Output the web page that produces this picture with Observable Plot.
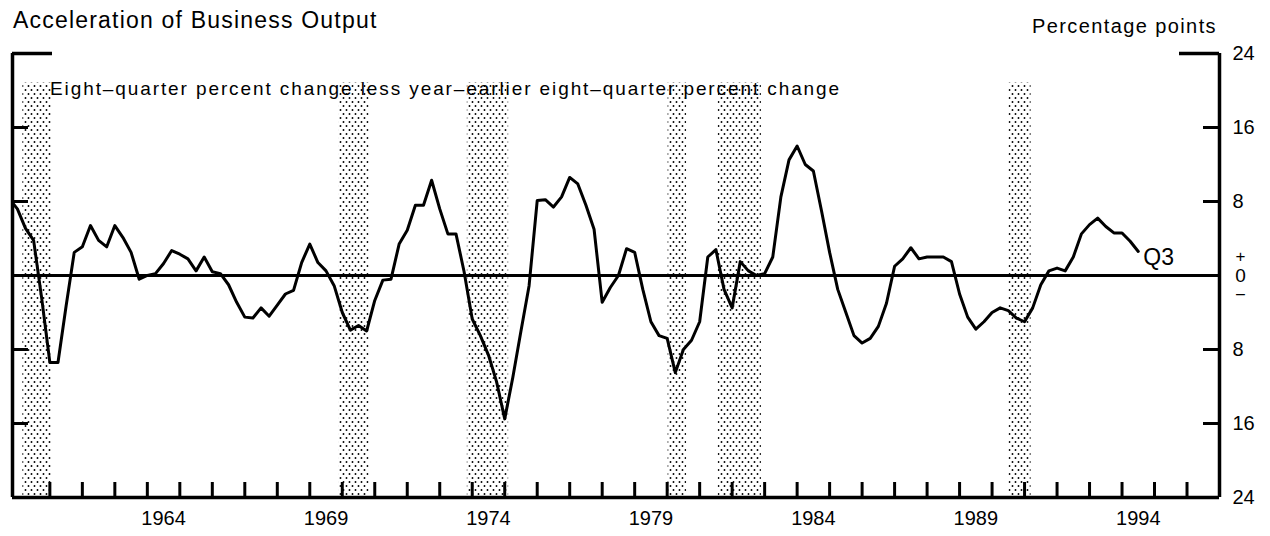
<!DOCTYPE html>
<html><head><meta charset="utf-8">
<script src="https://cdn.jsdelivr.net/npm/d3@7"></script>
<script src="https://cdn.jsdelivr.net/npm/@observablehq/plot@0.6"></script>
<style>
html,body{margin:0;padding:0;background:#fff;}
#wrap{position:relative;width:1270px;height:536px;font-family:"Liberation Sans",Arial,Helvetica,sans-serif;color:#000;overflow:hidden;}
.t{position:absolute;white-space:nowrap;line-height:1;}
#chart{position:absolute;left:0;top:0;}
</style></head><body>
<div id="wrap">
<div id="chart"></div>
<div class="t" style="left:13px;top:9px;font-size:23px;letter-spacing:1.2px;">Acceleration of Business Output</div>
<div class="t" style="right:53px;top:16px;font-size:20px;letter-spacing:1.4px;">Percentage points</div>
<div class="t" style="left:50px;top:79px;font-size:19px;letter-spacing:1.9px;">Eight–quarter percent change less year–earlier eight–quarter percent change</div>
</div>
<script>
// quarterly series, first value = 1959 Q4
const firstQuarter = 1959.75;
const vals1959to1969 = [8.3,
  7.2, 5.1, 3.8, -2.5,
  -9.4, -9.4, -3.3, 2.5,
  3.1, 5.4, 3.8, 3.1,
  5.4, 4.1, 2.5, -0.4,
  0.0, 0.2, 1.3, 2.7,
  2.3, 1.8, 0.5, 2.0,
  0.4, 0.2, -1.0, -2.9,
  -4.5, -4.6, -3.5, -4.4,
  -3.2, -2.0, -1.6, 1.4,
  3.4, 1.4, 0.5, -1.1];
const vals1970s = [
  -4.0, -5.9, -5.4, -6.0,
  -2.7, -0.5, -0.4, 3.4,
  4.9, 7.6, 7.6, 10.3,
  7.2, 4.5, 4.5, 0.4,
  -4.7, -6.5, -8.6, -11.5,
  -15.5, -11.0, -6.0, -1.1,
  8.1, 8.2, 7.4, 8.5,
  10.6, 9.9, 7.6, 5.0,
  -2.9, -1.3, 0.0, 2.9,
  2.5, -1.5, -5.0, -6.5];
const vals1980s = [
  -6.8, -10.5, -8.0, -7.0,
  -5.0, 2.0, 2.8, -1.5,
  -3.5, 1.5, 0.5, 0.0,
  0.2, 2.0, 8.5, 12.5,
  14.0, 12.0, 11.3, 7.0,
  2.5, -1.5, -4.0, -6.5,
  -7.3, -6.8, -5.5, -3.0,
  1.0, 1.8, 3.0, 1.8,
  2.0, 2.0, 2.0, 1.5,
  -2.0, -4.5, -5.8, -5.0];
const vals1990s = [
  -4.0, -3.5, -3.8, -4.6,
  -5.0, -3.5, -1.0, 0.5,
  0.8, 0.5, 2.0, 4.5,
  5.5, 6.2, 5.3, 4.6,
  4.6, 3.7, 2.6];
const lastLabel = "Q3";

// recessions (shaded)
const recStart = [1960.17, 1969.91, 1973.85, 1980.03, 1981.57, 1990.52];
const recEnd   = [1961.05, 1970.83, 1975.12, 1980.60, 1982.90, 1991.20];

const yearLabels = [1964, 1969, 1974, 1979, 1984, 1989, 1994];
const yearTicks = [1961,1962,1963,1964,1965,1966,1967,1968,1969,1970,1971,1972,1973,1974,1975,1976,1977,1978,
                   1979,1980,1981,1982,1983,1984,1985,1986,1987,1988,1989,1990,1991,1992,1993,1994,1995,1996];
const yLabelTicks = [-24, -16, -8, 8, 16, 24];
const yInnerTicks = [-16, -8, 8, 16];

const xDomain = [1959.85, 1997];
const yDomain = [-24, 24];

const values = [...vals1959to1969, ...vals1970s, ...vals1980s, ...vals1990s];
const series = values.map((v, i) => ({t: firstQuarter + i * 0.25, v}));
const recessions = recStart.map((s, i) => ({s, e: recEnd[i]}));
const last = series[series.length - 1];

const xL = xDomain[0], xR = xDomain[1];
const pxX = 1 / 32.49, pxY = 1 / 9.25;   // one pixel in data units

const svg = Plot.plot({
  width: 1270, height: 536,
  marginLeft: 12, marginRight: 51, marginTop: 53, marginBottom: 39,
  style: {fontFamily: '"Liberation Sans", Arial, Helvetica, sans-serif', fontSize: "20px", color: "#000", background: "transparent", overflow: "visible"},
  x: {domain: xDomain, label: null},
  y: {domain: yDomain, label: null},
  marks: [
    Plot.rect(recessions, {x1: "s", x2: "e", y1: () => -24, y2: () => 20.8, fill: "url(#dots)"}),
    Plot.ruleX(yearTicks, {y1: -24, y2: -24 + 15 * pxY, stroke: "#000", strokeWidth: 3}),
    Plot.ruleY(yInnerTicks, {x1: xL, x2: xL + 16 * pxX, stroke: "#000", strokeWidth: 3}),
    Plot.ruleY(yInnerTicks, {x1: xR - 16 * pxX, x2: xR, stroke: "#000", strokeWidth: 3}),
    Plot.ruleY([0], {x1: xL, x2: xR, stroke: "#000", strokeWidth: 3}),
    Plot.ruleY([-24], {x1: xL, x2: xR, stroke: "#000", strokeWidth: 3.5}),
    Plot.ruleX([xL, xR], {y1: -24, y2: 24, stroke: "#000", strokeWidth: 3.5}),
    Plot.ruleY([24], {x1: xL, x2: xL + 40 * pxX, stroke: "#000", strokeWidth: 3.5}),
    Plot.ruleY([24], {x1: xR - 40 * pxX, x2: xR, stroke: "#000", strokeWidth: 3.5}),
    Plot.line(series, {x: "t", y: "v", stroke: "#000", strokeWidth: 3, clip: true}),
    Plot.text([last], {x: "t", y: "v", text: () => lastLabel, dx: 5, dy: 6, textAnchor: "start", fontSize: 23}),
    Plot.axisX(yearLabels.map(y => y + 0.5), {tickSize: 0, tickPadding: 13, tickFormat: d => String(Math.round(d - 0.5)), fontSize: 20}),
    Plot.axisY(yLabelTicks, {anchor: "right", tickSize: 0, tickPadding: 13, tickFormat: d => String(Math.abs(d)), fontSize: 20}),
    Plot.text([0], {x: () => xR, y: d => d, text: () => "0", dx: 21, textAnchor: "middle", fontSize: 19}),
    Plot.text([0], {x: () => xR, y: d => d, text: () => "+", dx: 21, dy: -19, textAnchor: "middle", fontSize: 17}),
    Plot.text([0], {x: () => xR, y: d => d, text: () => "–", dx: 21, dy: 18, textAnchor: "middle", fontSize: 16})
  ]
});

const defs = d3.select(svg).insert("defs", ":first-child");
const pat = defs.append("pattern").attr("id", "dots").attr("patternUnits", "userSpaceOnUse").attr("width", 6).attr("height", 8);
pat.append("circle").attr("cx", 1.5).attr("cy", 2).attr("r", 0.95).attr("fill", "#000");
pat.append("circle").attr("cx", 4.5).attr("cy", 6).attr("r", 0.95).attr("fill", "#000");

document.getElementById("chart").appendChild(svg);
</script>
</body></html>
